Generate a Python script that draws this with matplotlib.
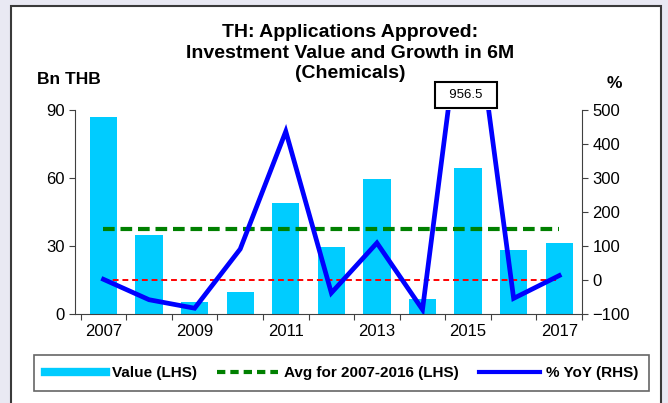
import numpy as np
import matplotlib
matplotlib.use("Agg")
from matplotlib import pyplot as plt
from matplotlib.lines import Line2D
from matplotlib.patches import Rectangle

plt.rcParams["font.family"] = ["Liberation Sans", "DejaVu Sans"]

years = [2007, 2008, 2009, 2010, 2011, 2012, 2013, 2014, 2015, 2016, 2017]
value = [87.0, 35.0, 5.4, 9.8, 49.0, 29.4, 59.5, 6.6, 64.3, 28.4, 31.3]
yoy = [2, -58, -83, 91, 437, -38, 109, -87, 956.5, -54, 13]
avg_years = (2007, 2016)
peak_label = "956.5"

x = np.arange(len(years))
avg = np.mean([v for y, v in zip(years, value) if avg_years[0] <= y <= avg_years[1]])

W, H = 668, 403
fig = plt.figure(figsize=(W / 100, H / 100), dpi=100)
fig.patch.set_facecolor("#e9e9f3")
frame = Rectangle((11 / W, -0.1), 650 / W, 1.1 - 6 / H, transform=fig.transFigure,
                  facecolor="white", edgecolor="#3a3a3a", lw=1.5, zorder=-5)
fig.add_artist(frame)

ax = fig.add_axes([75 / W, 1 - 314 / H, (582 - 75) / W, (314 - 110) / H])
ax.set_facecolor("none")
ax.bar(x, value, width=0.6, color="#00ccff", zorder=2)
ax.plot([x[0], x[-1]], [avg, avg], color="#008000", lw=3, ls=(0, (2.8, 1.4)), zorder=3)
ax.set_ylim(0, 90)
ax.set_yticks([0, 30, 60, 90])
ax.set_xlim(-0.5 - 5.7 / 45.6, 10.5)

ax.set_xticks(np.arange(-0.5, 11, 1))
ax.set_xticklabels([])
ax.set_xticks(x[::2], minor=True)
ax.set_xticklabels([str(y) for y in years[::2]], minor=True)
ax.tick_params(axis="x", which="major", direction="out", length=4.5, color="#404040")
ax.tick_params(axis="x", which="minor", length=0, pad=7, labelsize=12)
ax.tick_params(axis="y", direction="out", length=4, color="#404040", labelsize=12)
for s in ["top", "right"]:
    ax.spines[s].set_visible(False)
for s in ["left", "bottom"]:
    ax.spines[s].set_color("#404040")

ax2 = ax.twinx()
ax2.plot([x[0], x[-1]], [0, 0], color="#ff0000", lw=1.4, ls=(0, (3, 2)), zorder=2)
ax2.plot(x, yoy, color="#0000ff", lw=3.4, zorder=3, solid_joinstyle="miter")
ax2.set_ylim(-100, 500)
ax2.set_yticks(np.arange(-100, 501, 100))
ax2.tick_params(axis="y", direction="out", length=4, color="#404040", labelsize=12)
ax2.spines["top"].set_visible(False)
ax2.spines["left"].set_visible(False)
ax2.spines["bottom"].set_visible(False)
ax2.spines["right"].set_color("#404040")

i_peak = int(np.argmax(yoy))
ax2.text(x[i_peak] - 0.05, 544, "  " + peak_label + "  ", ha="center", va="center",
         fontsize=9.5, clip_on=False, zorder=5,
         bbox=dict(boxstyle="square,pad=0.55", fc="white", ec="black", lw=1.5))

fig.text(0.524, 1 - 53 / H,
         "TH: Applications Approved:\nInvestment Value and Growth in 6M\n(Chemicals)",
         ha="center", va="center", fontsize=14, fontweight="bold", linespacing=1.28)
fig.text(69 / W, 1 - 80 / H, "Bn THB", ha="center", va="center", fontsize=12.5, fontweight="bold")
fig.text(614 / W, 1 - 83 / H, "%", ha="center", va="center", fontsize=12.5, fontweight="bold")

handles = [
    Line2D([], [], color="#00ccff", lw=6),
    Line2D([], [], color="#008000", lw=3, ls=(0, (2, 1.2))),
    Line2D([], [], color="#0000ff", lw=3),
]
labels = ["Value (LHS)", "Avg for 2007-2016 (LHS)", "% YoY (RHS)"]
leg = fig.legend(handles, labels, loc="center", ncol=3,
                 bbox_to_anchor=(341.5 / W, 1 - 373 / H),
                 frameon=True, fancybox=False, edgecolor="#404040", handlelength=4.0,
                 handletextpad=0.4, columnspacing=1.3, borderpad=0.7, borderaxespad=0,
                 prop={"weight": "bold", "size": 11})
leg.get_frame().set_linewidth(1.2)

fig.savefig("out.png", dpi=100, facecolor=fig.get_facecolor())
